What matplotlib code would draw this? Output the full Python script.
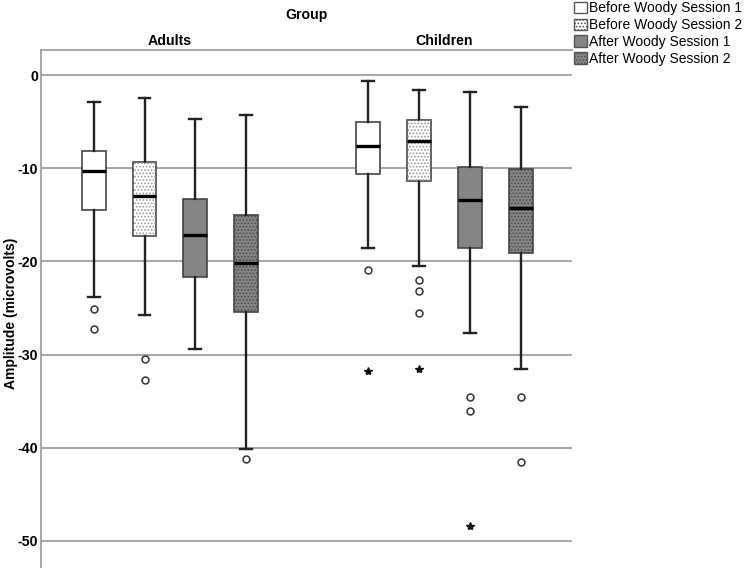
import matplotlib
matplotlib.use("Agg")
import matplotlib.pyplot as plt
import matplotlib.transforms as mtransforms
from matplotlib.patches import Rectangle, Patch

plt.rcParams['font.family'] = ['Liberation Sans', 'DejaVu Sans']
plt.rcParams['hatch.linewidth'] = 0.8

groups = ['Adults', 'Children']
sessions = ['Before Woody Session 1', 'Before Woody Session 2',
            'After Woody Session 1', 'After Woody Session 2']

whisker_low = [[-23.8, -25.8, -29.4, -40.1], [-18.6, -20.5, -27.7, -31.5]]
q1 = [[-14.5, -17.3, -21.7, -25.4], [-10.6, -11.4, -18.6, -19.1]]
median = [[-10.3, -13.0, -17.2, -20.2], [-7.6, -7.1, -13.4, -14.3]]
q3 = [[-8.1, -9.3, -13.3, -15.0], [-5.0, -4.8, -9.9, -10.1]]
whisker_high = [[-2.9, -2.5, -4.7, -4.3], [-0.6, -1.6, -1.8, -3.4]]
outliers = [[[-25.1, -27.3], [-30.5, -32.7], [], [-41.2]],
            [[-20.9], [-22.0, -23.2, -25.5], [-34.5, -36.1], [-34.5, -41.5]]]
extremes = [[[], [], [], []],
            [[-31.8], [-31.5], [-48.4], []]]

yticks = [0, -10, -20, -30, -40, -50]

# styles
fills = ['white', 'white', '#858585', '#858585']
hatch_on = [False, True, False, True]
dot_colors = [None, '#9a9a9a', None, '#4a4a4a']
offsets = [-1.5, -0.5, 0.5, 1.5]
step = 0.1855
box_w = 0.087

fig = plt.figure(figsize=(7.5, 5.7), dpi=100)
ax = fig.add_axes([41/750, 1 - 567/570, (572-41)/750, (567-50)/570])

for gi, g in enumerate(groups):
    for si in range(len(sessions)):
        pos = gi + offsets[si] * step
        stats = [dict(med=median[gi][si], q1=q1[gi][si], q3=q3[gi][si],
                      whislo=whisker_low[gi][si], whishi=whisker_high[gi][si],
                      fliers=outliers[gi][si])]
        ax.bxp(stats, positions=[pos], widths=box_w, patch_artist=True,
               showfliers=True,
               boxprops=dict(facecolor=fills[si], edgecolor='#444444', linewidth=1.2),
               medianprops=dict(color='black', linewidth=2.4),
               whiskerprops=dict(color='#222222', linewidth=1.7),
               capprops=dict(color='#222222', linewidth=1.7),
               flierprops=dict(marker='o', markersize=5, markerfacecolor='white',
                               markeredgecolor='#333333', markeredgewidth=1.1,
                               linestyle='none'),
               zorder=3)
        if hatch_on[si]:
            r = Rectangle((pos - box_w/2, q1[gi][si]), box_w, q3[gi][si] - q1[gi][si],
                          facecolor='none', edgecolor=dot_colors[si], hatch='.....',
                          linewidth=0, zorder=3.05)
            ax.add_patch(r)
        if extremes[gi][si]:
            ax.plot([pos] * len(extremes[gi][si]), extremes[gi][si], linestyle='none',
                    marker='*', markersize=6, color='#111111', zorder=4)

ax.set_xlim(-0.47, 1.465)
ax.set_ylim(-52.8, 2.7)
ax.set_yticks(yticks)
ax.set_yticklabels([str(t) for t in yticks], fontsize=10.2, fontweight='bold')
ax.tick_params(axis='y', length=0, pad=2)
ax.set_xticks([])
ax.yaxis.grid(True, color='#a8a8a8', linewidth=1.5)
ax.set_axisbelow(True)
for s in ['right', 'bottom']:
    ax.spines[s].set_visible(False)
for s in ['left', 'top']:
    ax.spines[s].set_color('#a0a0a0')
    ax.spines[s].set_linewidth(1.3)

ax.set_ylabel('Amplitude (microvolts)', fontsize=10, fontweight='bold')
ax.yaxis.set_label_coords(-23/531, 0.49)

trans = mtransforms.blended_transform_factory(ax.transData, ax.transAxes)
for gi, g in enumerate(groups):
    ax.text(gi, 1 + 9/517, g, transform=trans, ha='center', va='center',
            fontsize=10.2, fontweight='bold')
ax.text(0.5, 1 + 35/517, 'Group', transform=ax.transAxes, ha='center', va='center',
        fontsize=10.2, fontweight='bold')

handles = []
for si, s in enumerate(sessions):
    handles.append(Patch(facecolor=fills[si], edgecolor='#555555', linewidth=1.0,
                         hatch='.....' if hatch_on[si] else None, label=s))
leg = fig.legend(handles=handles, loc='upper left', bbox_to_anchor=(573/750, 1.0),
                 frameon=False, fontsize=10, handlelength=0.9, handleheight=0.9,
                 handletextpad=0.15, labelspacing=0.2, borderaxespad=0, borderpad=0.1)

fig.savefig('out.png', dpi=100)
